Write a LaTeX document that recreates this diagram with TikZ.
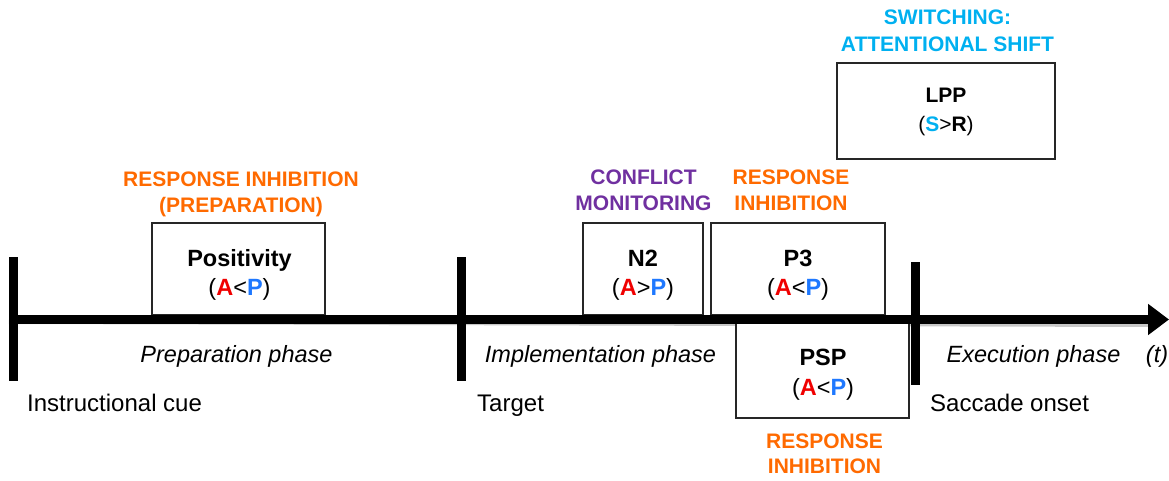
\documentclass[tikz,border=0pt]{standalone}
\usepackage{fontspec}
\setmainfont{Liberation Sans}
\usetikzlibrary{arrows.meta}
\definecolor{orng}{HTML}{FF6A00}
\definecolor{purp}{HTML}{7030A0}
\definecolor{cyn}{HTML}{00B0F0}
\definecolor{ared}{HTML}{F00000}
\definecolor{pblue}{HTML}{1E78FF}
\newcommand{\Ared}{\textcolor{ared}{\textbf{A}}}
\newcommand{\Pblue}{\textcolor{pblue}{\textbf{P}}}
\begin{document}
\begin{tikzpicture}[x=1pt,y=-1pt,
  box/.style 2 args={draw=black!85, line width=1.5pt, fill=white, minimum width=#1, minimum height=#2, inner sep=0pt},
  lbl/.style={font=\fontsize{21}{25}\selectfont\bfseries, anchor=base, inner sep=0pt},
  txt/.style={font=\fontsize{23.5}{27}\selectfont, anchor=base, inner sep=0pt},
  evt/.style={font=\fontsize{24}{28}\selectfont, anchor=base west, inner sep=0pt},
  axisline/.style={line width=9pt},
  tickline/.style={line width=9pt},
  shadow/.style={draw=black!22}
]
\useasboundingbox (0,0) rectangle (1169,481);

% coordinates of the axis and ticks
\coordinate (axL) at (9,319.5);
\coordinate (axR) at (1169,319.5);
\coordinate (t1a) at (13.5,257); \coordinate (t1b) at (13.5,381);
\coordinate (t2a) at (461.5,257); \coordinate (t2b) at (461.5,381);
\coordinate (t3a) at (915.5,262); \coordinate (t3b) at (915.5,385);

% shadows
\begin{scope}[shift={(1,3)}]
  \draw[shadow, axisline] (axL) -- (1150,319.5);
  \draw[shadow, tickline] (t1a) -- (t1b);
  \draw[shadow, tickline] (t2a) -- (t2b);
  \draw[shadow, tickline] (t3a) -- (t3b);
\end{scope}

% boxes
\node[box={173pt}{92pt}] (pos) at (238.5,269) {};
\node[box={120pt}{92pt}] (n2) at (643,269) {};
\node[box={174pt}{92pt}] (p3) at (798,269) {};
\node[box={173pt}{95pt}] (psp) at (822.5,370.5) {};
\node[box={218pt}{96pt}] (lpp) at (946,111) {};

% axis and ticks
\draw[axisline, -{Triangle[length=21pt,width=30pt]}] (axL) -- (axR);
\draw[tickline] (t1a) -- (t1b);
\draw[tickline] (t2a) -- (t2b);
\draw[tickline] (t3a) -- (t3b);

% box texts
\node[txt, font=\fontsize{23.5}{27}\selectfont\bfseries] (posT) at (239.5,266) {Positivity};
\node[txt] (posR) at (239.5,295) {(\Ared<\Pblue)};
\node[txt, font=\fontsize{23.5}{27}\selectfont\bfseries] (n2T) at (643,266) {N2};
\node[txt] (n2R) at (643,295) {(\Ared>\Pblue)};
\node[txt, font=\fontsize{23.5}{27}\selectfont\bfseries] (p3T) at (798,266) {P3};
\node[txt] (p3R) at (798,295) {(\Ared<\Pblue)};
\node[txt, font=\fontsize{23.5}{27}\selectfont\bfseries] (pspT) at (823,365) {PSP};
\node[txt] (pspR) at (823,395) {(\Ared<\Pblue)};
\node[txt, font=\fontsize{21}{25}\selectfont\bfseries] (lppT) at (946,103) {LPP};
\node[txt, font=\fontsize{21}{25}\selectfont] (lppR) at (946,132) {(\textcolor{cyn}{\textbf{S}}>\textbf{R})};

% function labels
\node[lbl, text=orng] (ri1a) at (241,186) {RESPONSE INHIBITION};
\node[lbl, text=orng] (ri1b) at (241,212) {(PREPARATION)};
\node[lbl, text=purp] (cm1) at (643.5,185) {CONFLICT};
\node[lbl, text=purp] (cm2) at (643.5,211) {MONITORING};
\node[lbl, text=orng] (ri2a) at (791,185) {RESPONSE};
\node[lbl, text=orng] (ri2b) at (791,211) {INHIBITION};
\node[lbl, text=orng] (ri3a) at (824.5,448) {RESPONSE};
\node[lbl, text=orng] (ri3b) at (824.5,473) {INHIBITION};
\node[lbl, text=cyn] (sw1) at (947.5,25) {SWITCHING:};
\node[lbl, text=cyn] (sw2) at (947.5,52) {ATTENTIONAL SHIFT};

% phases
\node[txt, font=\fontsize{23.5}{27}\selectfont\itshape] (ph1) at (236.5,362) {Preparation phase};
\node[txt, font=\fontsize{23.5}{27}\selectfont\itshape] (ph2) at (600.5,362) {Implementation phase};
\node[txt, font=\fontsize{23.5}{27}\selectfont\itshape] (ph3) at (1033.5,362) {Execution phase};
\node[txt, font=\fontsize{23.5}{27}\selectfont\itshape] (tt) at (1157,362) {(t)};

% events
\node[evt] (ev1) at (27,411) {Instructional cue};
\node[evt] (ev2) at (477,411) {Target};
\node[evt] (ev3) at (930,411) {Saccade onset};
\end{tikzpicture}
\end{document}
